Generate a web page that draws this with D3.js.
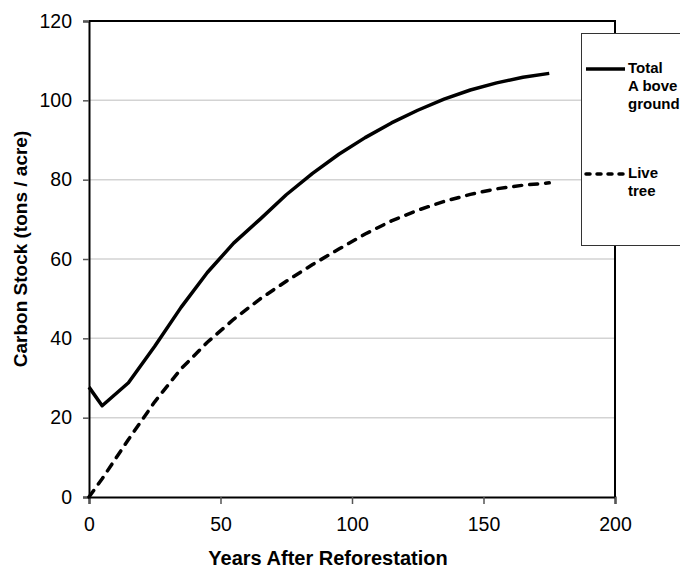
<!DOCTYPE html>
<html>
<head>
<meta charset="utf-8">
<script src="https://cdn.jsdelivr.net/npm/d3@7"></script>
<style>
  body { margin: 0; background: #fff; }
  text { font-family: "Liberation Sans", Arial, sans-serif; }
</style>
</head>
<body>
<svg id="chart"></svg>
<script>
const width = 680;
const height = 569;

// years after reforestation
const years = [0, 5, 15, 25, 35, 45, 55, 65, 75, 85, 95, 105, 115, 125, 135, 145, 155, 165, 175];
// carbon stock, tons / acre
const totalAbove = [27.7, 23.0, 28.8, 38.0, 47.8, 56.6, 64.0, 70.0, 76.2, 81.6, 86.4, 90.6, 94.3, 97.5, 100.3, 102.6, 104.4, 105.8, 106.8];
const liveTree = [0, 4.6, 14.5, 24.0, 32.3, 39.0, 44.8, 49.9, 54.4, 58.6, 62.5, 66.3, 69.6, 72.3, 74.5, 76.3, 77.7, 78.6, 79.2];

const xTicks = [0, 50, 100, 150, 200];
const yTicks = [0, 20, 40, 60, 80, 100, 120];

const series = [
  { name: ["Total", "A bove", "ground"], values: totalAbove, dash: null, legendY: 69 },
  { name: ["Live", "tree"], values: liveTree, dash: "8,8", legendY: 174 }
];

const svg = d3.select("#chart")
  .attr("width", width)
  .attr("height", height);

const x = d3.scaleLinear().domain([0, 200]).range([89, 615]);
const y = d3.scaleLinear().domain([0, 120]).range([497, 21]);

// gridlines
svg.append("g")
  .selectAll("line")
  .data(yTicks.filter(d => d > 0 && d < 120))
  .join("line")
  .attr("x1", x(0)).attr("x2", x(200))
  .attr("y1", d => y(d)).attr("y2", d => y(d))
  .attr("stroke", "#d3d3d3")
  .attr("stroke-width", 1.5);

// axes
const yAxis = svg.append("g")
  .attr("transform", `translate(${x(0)},0)`)
  .call(d3.axisLeft(y).tickValues(yTicks).tickSize(6).tickPadding(11));

const xAxis = svg.append("g")
  .attr("transform", `translate(0,${y(0)})`)
  .call(d3.axisBottom(x).tickValues(xTicks).tickSize(7).tickPadding(8));

[xAxis, yAxis].forEach(g => {
  g.select(".domain").attr("stroke", "#000").attr("stroke-width", 2);
  g.selectAll(".tick line").attr("stroke", "#555").attr("stroke-width", 1.5);
  g.selectAll(".tick text")
    .attr("fill", "#000")
    .style("font-size", "19.5px");
});
xAxis.selectAll(".tick text").attr("dy", "0.95em");

// frame top and right
svg.append("path")
  .attr("d", `M${x(0)},${y(120)}H${x(200)}V${y(0)}`)
  .attr("fill", "none")
  .attr("stroke", "#000")
  .attr("stroke-width", 2);

// lines
const line = d3.line()
  .x((d, i) => x(years[i]))
  .y(d => y(d));

svg.append("g")
  .selectAll("path")
  .data(series)
  .join("path")
  .attr("d", d => line(d.values))
  .attr("fill", "none")
  .attr("stroke", "#000")
  .attr("stroke-width", 3.5)
  .attr("stroke-linejoin", "round")
  .attr("stroke-linecap", d => d.dash ? "round" : "butt")
  .attr("stroke-dasharray", d => d.dash);

// axis titles
svg.append("text")
  .attr("x", 328)
  .attr("y", 565)
  .attr("text-anchor", "middle")
  .style("font-size", "20px")
  .style("font-weight", "bold")
  .text("Years After Reforestation");

svg.append("text")
  .attr("transform", "translate(27,249) rotate(-90)")
  .attr("text-anchor", "middle")
  .style("font-size", "19px")
  .style("font-weight", "bold")
  .text("Carbon Stock (tons / acre)");

// legend
const legend = svg.append("g");
legend.append("rect")
  .attr("x", 581.5).attr("y", 33.5)
  .attr("width", 120).attr("height", 212)
  .attr("fill", "#fff")
  .attr("stroke", "#333")
  .attr("stroke-width", 1);

const item = legend.selectAll("g.item")
  .data(series)
  .join("g")
  .attr("class", "item");

item.append("line")
  .attr("x1", 586).attr("x2", 625)
  .attr("y1", d => d.legendY).attr("y2", d => d.legendY)
  .attr("stroke", "#000")
  .attr("stroke-width", 3.5)
  .attr("stroke-linecap", d => d.dash ? "round" : "butt")
  .attr("stroke-dasharray", d => d.dash ? "4,7" : null);

item.each(function(d) {
  const t = d3.select(this).append("text")
    .attr("x", 628)
    .attr("y", d.legendY + 4)
    .style("font-size", "15px")
    .style("font-weight", "bold")
    .attr("fill", "#000");
  t.selectAll("tspan")
    .data(d.name)
    .join("tspan")
    .attr("x", 628)
    .attr("dy", (s, i) => i === 0 ? 0 : 18)
    .text(s => s);
});
</script>
</body>
</html>
